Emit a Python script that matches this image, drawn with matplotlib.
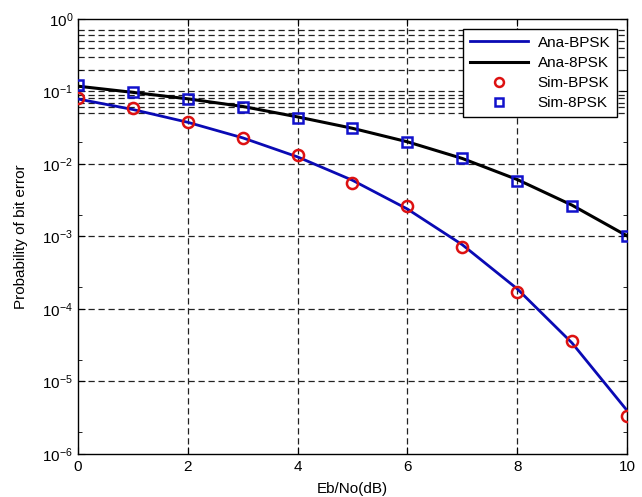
import matplotlib
matplotlib.use("Agg")
import matplotlib.pyplot as plt
import numpy as np

plt.rcParams['font.family'] = ['Liberation Sans', 'DejaVu Sans']

# Eb/No in dB
ebno = [0, 1, 2, 3, 4, 5, 6, 7, 8, 9, 10]

# analytic curves
ana_bpsk = [0.0786, 0.0563, 0.0375, 0.0229, 0.0125, 0.00595, 0.00239,
            7.7e-4, 1.9e-4, 3.4e-5, 4.0e-6]
ana_8psk = [0.118, 0.097, 0.079, 0.062, 0.0445, 0.031, 0.0202,
            0.0119, 0.0061, 0.0027, 0.00102]

# simulated points
sim_bpsk = [0.081, 0.0585, 0.038, 0.023, 0.0132, 0.0055, 0.0026,
            7.2e-4, 1.7e-4, 3.6e-5, 3.3e-6]
sim_8psk = [0.123, 0.0975, 0.0785, 0.0615, 0.0435, 0.031, 0.0203,
            0.012, 0.0059, 0.0026, 0.00102]

xticks = [0, 2, 4, 6, 8, 10]
yticks = [1e-6, 1e-5, 1e-4, 1e-3, 1e-2, 1e-1, 1e0]
# the odd extra dashed lines the original has near the top
extra_grid = [0.2, 0.3, 0.4, 0.5, 0.6, 0.7, 0.05, 0.06, 0.07, 0.08, 0.09]

fig = plt.figure(figsize=(6.42, 4.97), dpi=100)
ax = fig.add_axes([0.1215, 0.0865, 0.855, 0.8755])

dash = (0, (5, 3))
for yy in yticks[1:-1]:
    ax.axhline(yy, color='#222222', lw=0.9, ls=dash, zorder=1)
for xx in xticks[1:-1]:
    ax.axvline(xx, color='#222222', lw=0.9, ls=dash, zorder=1)
for yy in extra_grid:
    ax.axhline(yy, color='#222222', lw=0.9, ls=dash, zorder=1)

ax.semilogy(ebno, ana_bpsk, color='#0a0ab4', lw=2, label='Ana-BPSK', zorder=3)
ax.semilogy(ebno, ana_8psk, color='black', lw=2.2, label='Ana-8PSK', zorder=3)
ax.semilogy(ebno, sim_bpsk, 'o', mfc='none', mec='#dd1111', mew=1.8, ms=8,
            label='Sim-BPSK', zorder=4)
ax.semilogy(ebno, sim_8psk, 's', mfc='none', mec='#1111cc', mew=1.8, ms=6.5,
            label='Sim-8PSK', zorder=4)

ax.set_xlim(0, 10)
ax.set_ylim(1e-6, 1)
ax.set_xticks(xticks)
ax.set_yticks(yticks)
ax.set_yticks([2 * v for v in yticks[:-1]], minor=True)
ax.yaxis.set_minor_formatter(matplotlib.ticker.NullFormatter())
ax.tick_params(which='both', direction='in', top=True, right=True, labelsize=11)
ax.tick_params(which='major', length=5)
ax.tick_params(which='minor', length=3)
ax.tick_params(axis='x', pad=4)
for s in ax.spines.values():
    s.set_linewidth(1)

ax.set_xlabel('Eb/No(dB)', fontsize=11, labelpad=6)
ax.set_ylabel('Probability of bit error', fontsize=11, labelpad=10)

leg = ax.legend(loc='upper right', bbox_to_anchor=(0.982, 0.977), fontsize=11,
                handlelength=3.8, frameon=True, fancybox=False, borderpad=0.45,
                labelspacing=0.4, handletextpad=0.6, borderaxespad=0,
                markerscale=0.8)
leg.get_frame().set_edgecolor('black')
leg.get_frame().set_linewidth(1)
leg.get_frame().set_alpha(1)

fig.savefig('out.png', dpi=100)
